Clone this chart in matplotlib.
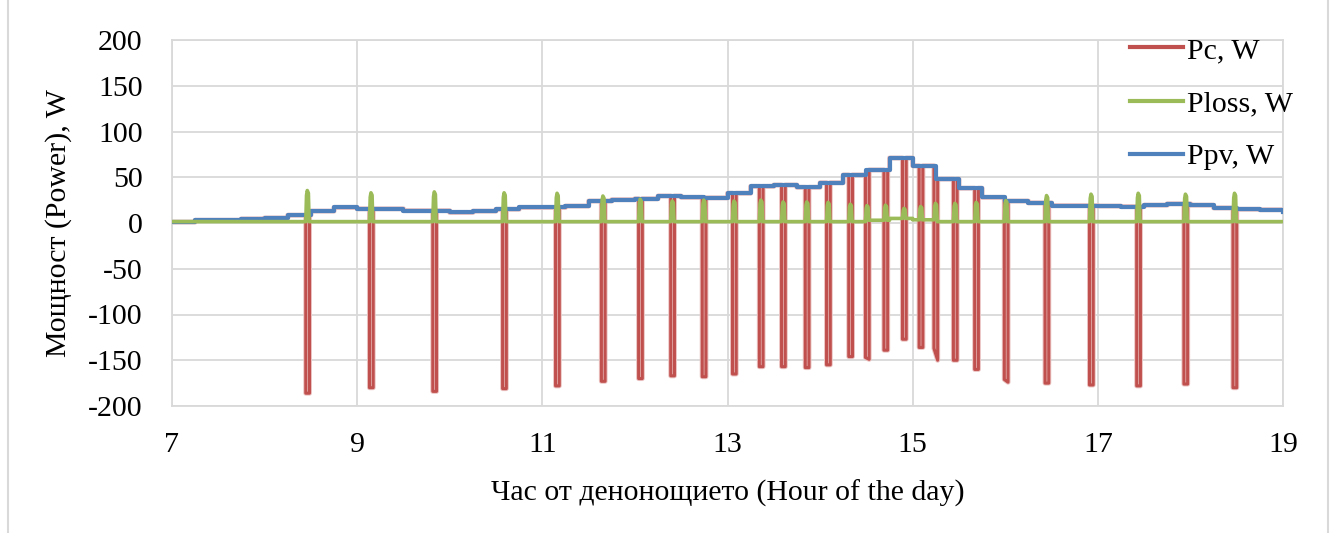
import numpy as np
import matplotlib
matplotlib.use("Agg")
import matplotlib.pyplot as plt
import matplotlib.patheffects as pe
from matplotlib.lines import Line2D

# ---------------- data ----------------
# PV power, 15-minute steps starting at 7:00 (last value = end point at 19:00)
ppv_start = 7.0
ppv_step = 0.25
ppv_values = [1, 3, 3, 4.5, 5.5, 8.5, 13, 17,
              15.5, 15.5, 13.5, 13.5, 11.5, 13, 15, 17,
              17, 18.5, 24, 25.5, 26.5, 29.5, 28, 27.5,
              32.5, 40, 41.5, 39, 44, 52.5, 58, 71,
              62.5, 48, 38, 28, 24, 22, 19, 19,
              18.5, 18, 19.5, 21, 19.5, 16.5, 15, 14.5,
              12.5]

# Battery (charge / discharge) events: time, bottom at start, bottom at end
event_times = [8.445, 9.133, 9.817, 10.571, 11.143, 11.638, 12.04, 12.387,
               12.727, 13.054, 13.344, 13.584, 13.84, 14.07, 14.31, 14.49,
               14.69, 14.89, 15.07, 15.23, 15.44, 15.67, 15.99, 16.43,
               16.91, 17.42, 17.93, 18.46]
pc_min_start = [-186, -180, -184, -181, -178, -173, -170, -167,
                -168, -165, -157, -157, -158, -155, -146, -147,
                -139, -127, -136, -137, -150, -160, -171, -175,
                -177, -178, -176, -180]
pc_min_end = [-186, -180, -184, -181, -178, -173, -170, -167,
              -168, -165, -157, -157, -158, -155, -146, -149,
              -139, -127, -136, -150, -150, -160, -174, -175,
              -177, -178, -176, -180]
ploss_peak = [35.5, 33, 34, 33, 32.5, 29.5, 26, 24,
              25, 24, 25, 23, 23, 22.5, 20.5, 19,
              19.5, 16, 18, 21.5, 21.5, 22.5, 24.5, 30,
              31.5, 32.5, 31.5, 32.5]
# Ploss base level per 15-minute step
ploss_base = [1.5] * 30 + [3, 5, 3.5] + [1.5] * 15 + [1.5]

legend_labels = ["Pc, W", "Ploss, W", "Ppv, W"]
x_ticks = [7, 9, 11, 13, 15, 17, 19]
y_ticks = [-200, -150, -100, -50, 0, 50, 100, 150, 200]
x_label = "Час от денонощието (Hour of the day)"
y_label = "Мощност (Power), W"

# ---------------- build polylines ----------------
n = len(ppv_values) - 1
step_t = [ppv_start + i * ppv_step for i in range(n + 1)]


def level_at(vals, t):
    i = int((t - ppv_start) // ppv_step)
    i = max(0, min(i, n - 1))
    return vals[i]


W_PC = 0.040   # width of a Pc event (hours)
W_PL = 0.036   # width of a Ploss event (hours)


def inside(t, width):
    return any(e - 1e-6 <= t <= e + width + 1e-3 for e in event_times)


def step_points(vals, width):
    pts = []
    for i in range(n):
        for x in (step_t[i], step_t[i + 1] - 1e-5):
            if not inside(x, width):
                pts.append((x, vals[i]))
    return pts


# Pc: follows Ppv, with downward events
pc_pts = step_points(ppv_values, W_PC)
for t, a, b in zip(event_times, pc_min_start, pc_min_end):
    l0 = level_at(ppv_values, t)
    l1 = level_at(ppv_values, t + W_PC + 1e-4)
    pc_pts += [(t - 1e-4, l0), (t, a), (t + W_PC, b), (t + W_PC + 1e-4, l1)]
pc_pts.sort(key=lambda p: p[0])
pc_x = [p[0] for p in pc_pts]
pc_y = [p[1] for p in pc_pts]

# Ploss: small base level with peaks at the events
pl_pts = step_points(ploss_base, W_PL)
for t, pk in zip(event_times, ploss_peak):
    b0 = level_at(ploss_base, t)
    b1 = level_at(ploss_base, t + W_PL + 1e-4)
    pl_pts += [(t - 1e-4, b0), (t + 0.008, pk * 0.85), (t + 0.016, pk),
               (t + 0.028, pk * 0.92), (t + W_PL, b1)]
pl_pts.sort(key=lambda p: p[0])
pl_x = [p[0] for p in pl_pts]
pl_y = [p[1] for p in pl_pts]

# ---------------- figure ----------------
plt.rcParams['font.family'] = ['Liberation Serif', 'DejaVu Serif']
plt.rcParams['axes.unicode_minus'] = False
fig = plt.figure(figsize=(13.35, 5.33), dpi=100)
ax = fig.add_axes([172 / 1335, 1 - 406 / 533, (1283 - 172) / 1335, (406 - 40) / 533])

RED = '#C0504D'
GREEN = '#9BBB59'
BLUE = '#4F81BD'
GRID = '#D9D9D9'

l_pc, = ax.plot(pc_x, pc_y, color=RED, lw=2.2, zorder=2, solid_joinstyle='round',
                path_effects=[pe.Stroke(linewidth=3.6, foreground='#EBC4C3'), pe.Normal()])
l_pv, = ax.step(step_t, ppv_values, where='post', color=BLUE, lw=3.0, zorder=3)
l_pl, = ax.plot(pl_x, pl_y, color=GREEN, lw=2.6, zorder=4, solid_joinstyle='round')

ax.set_xlim(7, 19)
ax.set_ylim(-200, 200)
ax.set_xticks(x_ticks)
ax.set_yticks(y_ticks)
ax.grid(True, color=GRID, lw=1.3)
ax.set_axisbelow(True)
for s in ax.spines.values():
    s.set_color(GRID)
    s.set_linewidth(1.3)
ax.tick_params(axis='both', length=0, labelsize=21.5, colors='black')
ax.tick_params(axis='y', pad=21)
ax.tick_params(axis='x', pad=19)
ax.set_xlabel(x_label, fontsize=21.5, labelpad=15)
ax.set_ylabel(y_label, fontsize=21.5, labelpad=11.5)

leg = ax.legend([l_pc, l_pl, l_pv], legend_labels, loc='upper left',
                bbox_to_anchor=(1130 / 1335, 1 - 37 / 533),
                bbox_transform=fig.transFigure, frameon=False,
                fontsize=21.5, handlelength=1.77, handletextpad=0.13,
                labelspacing=0.88, borderpad=0, borderaxespad=0)
for h in leg.get_lines():
    h.set_linewidth(3.0)
    h.set_path_effects([])

# chart-area border lines (left and right)
fig.add_artist(Line2D([7.5 / 1335, 7.5 / 1335], [0, 1], color=GRID, lw=1.5,
                      transform=fig.transFigure))
fig.add_artist(Line2D([1328 / 1335, 1328 / 1335], [0, 1], color=GRID, lw=1.5,
                      transform=fig.transFigure))

fig.savefig('out.png', dpi=100)
